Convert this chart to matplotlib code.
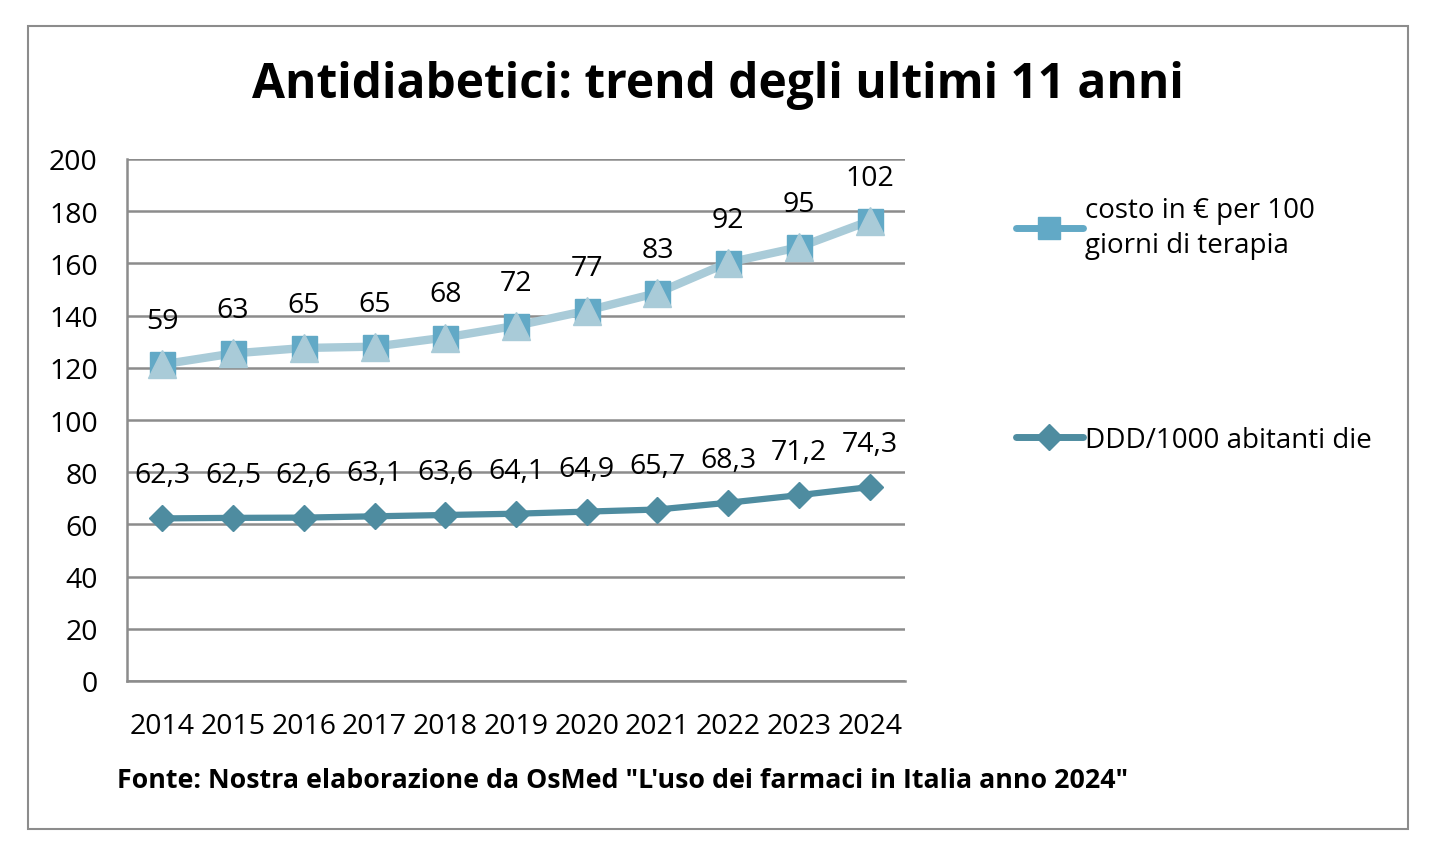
import matplotlib.pyplot as plt
from matplotlib.lines import Line2D
from matplotlib.patches import Rectangle

anni = ['2014', '2015', '2016', '2017', '2018', '2019', '2020', '2021', '2022', '2023', '2024']
ddd = [62.3, 62.5, 62.6, 63.1, 63.6, 64.1, 64.9, 65.7, 68.3, 71.2, 74.3]
costo = [59, 63, 65, 65, 68, 72, 77, 83, 92, 95, 102]
yticks = [0, 20, 40, 60, 80, 100, 120, 140, 160, 180, 200]

plt.rcParams['font.family'] = ['Open Sans', 'DejaVu Sans']

col_ddd = '#4e8ca0'
col_sq = '#62a9c6'
col_line = '#a9cbd8'

fig = plt.figure(figsize=(14.42, 8.54), dpi=100)
W, H = 1442, 854
ax = fig.add_axes([127 / W, 1 - 682 / H, (905 - 127) / W, (682 - 160) / H])

x = list(range(len(anni)))
# grafico a linee in pila: il costo si somma alle DDD
cumulato = [a + b for a, b in zip(ddd, costo)]

ax.plot(x, ddd, color=col_ddd, lw=4.5, marker='D', ms=13, mfc=col_ddd, mec=col_ddd,
        solid_capstyle='round', zorder=3)
ax.plot(x, cumulato, color=col_line, lw=6, marker='s', ms=18, mfc=col_sq, mec=col_sq,
        solid_capstyle='round', zorder=3)
ax.plot(x, cumulato, color=col_line, lw=0, marker='^', ms=20, mfc=col_line, mec=col_line, zorder=4)

for i in x:
    ax.annotate(f'{ddd[i]:.1f}'.replace('.', ','), (i, ddd[i]), xytext=(0, 31),
                textcoords='offset points', ha='center', va='center', fontsize=20.5)
    ax.annotate(str(costo[i]), (i, cumulato[i]), xytext=(0, 31),
                textcoords='offset points', ha='center', va='center', fontsize=20.5)

ax.set_xlim(-0.5, len(anni) - 0.5)
ax.set_ylim(0, 200)
ax.set_yticks(yticks)
ax.set_xticks(x)
ax.set_xticklabels(anni)
ax.grid(axis='y', color='#8c8c8c', lw=1.8)
ax.set_axisbelow(True)
for s in ['top', 'right']:
    ax.spines[s].set_visible(False)
for s in ['left', 'bottom']:
    ax.spines[s].set_color('#8c8c8c')
    ax.spines[s].set_linewidth(1.8)
ax.tick_params(axis='both', length=0, labelsize=20.5)
ax.tick_params(axis='x', pad=22)
ax.tick_params(axis='y', pad=21)

# legenda
leg1 = [Line2D([0], [0], color=col_sq, lw=5, marker='s', ms=16, mfc=col_sq, mec=col_sq,
               solid_capstyle='round')]
leg2 = [Line2D([0], [0], color=col_ddd, lw=5, marker='D', ms=13, mfc=col_ddd, mec=col_ddd,
               solid_capstyle='round')]
l1 = fig.legend(leg1, ['costo in € per 100\ngiorni di terapia'], loc='upper left',
                bbox_to_anchor=(991 / W, 1 - 172 / H), frameon=False, fontsize=20,
                handlelength=2.4, handletextpad=0.1)
for t in l1.get_texts():
    t.set_linespacing(1.35)
fig.legend(leg2, ['DDD/1000 abitanti die'], loc='upper left',
           bbox_to_anchor=(991 / W, 1 - 402 / H), frameon=False, fontsize=20,
           handlelength=2.4, handletextpad=0.1)

fig.text(718 / W, 1 - 86 / H, 'Antidiabetici: trend degli ultimi 11 anni', ha='center',
         va='center', fontsize=34.5, fontweight='bold')
fig.text(117 / W, 1 - 781 / H, 'Fonte: Nostra elaborazione da OsMed "L\'uso dei farmaci in Italia anno 2024"',
         ha='left', va='center', fontsize=19.3, fontweight='bold')

fig.patches.append(Rectangle((28 / W, 1 - 830 / H), (1408 - 28) / W, (830 - 27) / H,
                             transform=fig.transFigure, fill=False, ec='#8c8c8c', lw=1.5))

fig.savefig('out.png', dpi=100)
